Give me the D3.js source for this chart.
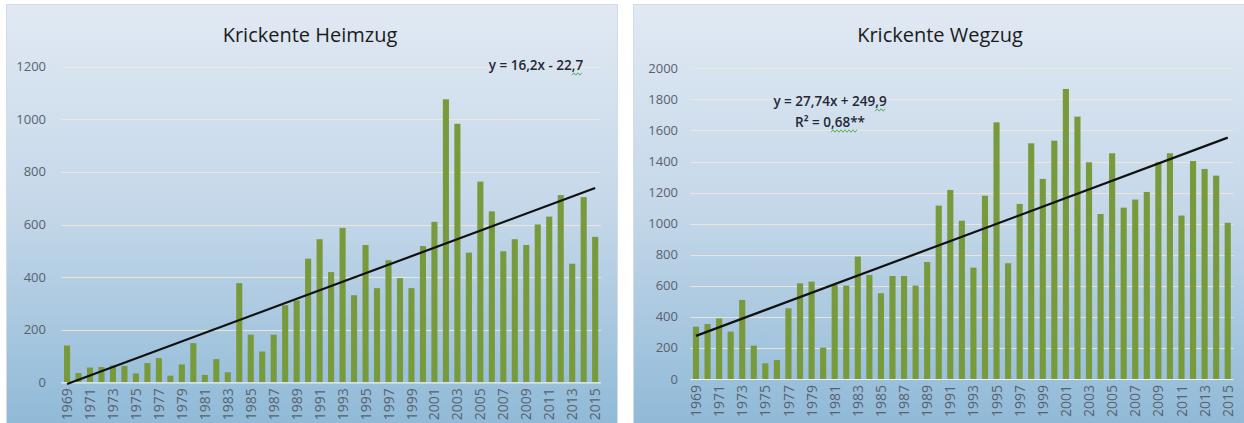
<!DOCTYPE html>
<html>
<head>
<meta charset="utf-8">
<script src="https://cdn.jsdelivr.net/npm/d3@7"></script>
<style>
  body { margin: 0; background: #fff; }
  text { font-family: "Open Sans", "Liberation Sans", sans-serif; }
</style>
</head>
<body>
<svg id="chart" width="1244" height="423"></svg>
<script>
// Krickente (teal) counts per year, spring passage and autumn passage
const years = d3.range(1969, 2016);
const heimzug = [140, 35, 56, 58, 64, 62, 34, 73, 92, 25, 68, 149, 28, 88, 38, 377,
  181, 117, 181, 293, 311, 470, 544, 419, 587, 331, 522, 358, 464, 396, 358, 518,
  610, 1076, 983, 493, 763, 650, 498, 544, 522, 600, 630, 712, 451, 704, 553];
const wegzug = [337, 354, 390, 305, 509, 215, 101, 122, 455, 616, 627, 202, 605, 601,
  788, 670, 552, 663, 663, 601, 753, 1116, 1217, 1019, 717, 1180, 1652, 745, 1127,
  1517, 1288, 1534, 1867, 1689, 1395, 1062, 1453, 1103, 1155, 1204, 1395, 1453,
  1052, 1403, 1352, 1309, 1006];
const heimTicks = [0, 200, 400, 600, 800, 1000, 1200];
const wegTicks = [0, 200, 400, 600, 800, 1000, 1200, 1400, 1600, 1800, 2000];
const yearLabels = years.filter(y => y % 2 === 1);
// linear trend: [slope, intercept], x = 1 for the first year
const heimTrend = [16.2, -22.7];
const wegTrend = [27.74, 249.9];
const heimEquation = ["y = 16,2x - 22,7"];
const wegEquation = ["y = 27,74x + 249,9", "R² = 0,68**"];

const svg = d3.select("#chart");
const defs = svg.append("defs");
const grad = defs.append("linearGradient")
  .attr("id", "bg").attr("gradientUnits", "userSpaceOnUse")
  .attr("x1", 0).attr("y1", 4).attr("x2", 0).attr("y2", 423);
grad.append("stop").attr("offset", 0).attr("stop-color", "#e1e9f3");
grad.append("stop").attr("offset", 0.5).attr("stop-color", "#c4d7e9");
grad.append("stop").attr("offset", 1).attr("stop-color", "#90bad7");

function squiggle(g, x0, x1, y) {
  const pts = [];
  for (let x = x0, k = 0; x <= x1; x += 2, k++) pts.push([x, y + (k % 2 ? -1.2 : 1.2)]);
  g.append("path").attr("d", d3.line()(pts))
    .attr("fill", "none").attr("stroke", "#3faa3f").attr("stroke-width", 0.9);
}

function drawPanel(p) {
  const g = svg.append("g");
  g.append("rect")
    .attr("x", p.box[0] + 0.5).attr("y", p.box[1] + 0.5)
    .attr("width", p.box[2]).attr("height", p.box[3])
    .attr("fill", "url(#bg)").attr("stroke", "#d3dbe4");

  const x = d3.scaleBand().domain(years).range(p.xRange).paddingInner(0.47).paddingOuter(0.235);
  const y = d3.scaleLinear().domain([0, p.ticks[p.ticks.length - 1]]).range(p.yRange);

  // gridlines
  g.append("g")
    .selectAll("line").data(p.ticks.slice(1)).join("line")
    .attr("x1", p.xRange[0]).attr("x2", p.xRange[1])
    .attr("y1", d => Math.round(y(d)) + 0.5).attr("y2", d => Math.round(y(d)) + 0.5)
    .attr("stroke", "#f0e8d8").attr("stroke-width", 1.2).attr("opacity", 0.9);

  // y tick labels
  g.append("g")
    .selectAll("text").data(p.ticks).join("text")
    .attr("x", p.labelX).attr("y", d => y(d)).attr("dy", "0.35em")
    .attr("text-anchor", "end").attr("font-size", 13).attr("fill", "#58626e")
    .text(d => d);

  // bars
  g.append("g")
    .selectAll("rect").data(p.values).join("rect")
    .attr("x", (d, i) => x(years[i]))
    .attr("width", x.bandwidth())
    .attr("y", d => y(d))
    .attr("height", d => y(0) - y(d))
    .attr("fill", "#789a3b");

  // baseline
  g.append("line")
    .attr("x1", p.xRange[0]).attr("x2", p.xRange[1])
    .attr("y1", y(0) + 0.5).attr("y2", y(0) + 0.5)
    .attr("stroke", "#eef0ee").attr("stroke-width", 1.2);

  // year labels, rotated
  g.append("g")
    .selectAll("text").data(yearLabels).join("text")
    .attr("transform", d => `translate(${x(d) + x.bandwidth() / 2},${y(0) + 6}) rotate(-90)`)
    .attr("dy", "0.36em").attr("text-anchor", "end")
    .attr("font-size", 14).attr("fill", "#58626e")
    .text(d => d);

  // trend line
  const n = years.length;
  const trendY = i => p.trend[0] * i + p.trend[1];
  g.append("line")
    .attr("x1", x(years[0]) + x.bandwidth() / 2).attr("y1", y(trendY(1)))
    .attr("x2", x(years[n - 1]) + x.bandwidth() / 2).attr("y2", y(trendY(n)))
    .attr("stroke", "#111").attr("stroke-width", 2.2);

  // title
  g.append("text")
    .attr("x", p.titleX).attr("y", 42).attr("text-anchor", "middle")
    .attr("font-size", 20).attr("fill", "#1b1b1b")
    .text(p.title);

  // regression equation
  p.equation.forEach((line, k) => {
    const t = g.append("text")
      .attr("x", p.eqPos[0]).attr("y", p.eqPos[1] + k * 21)
      .attr("text-anchor", "middle").attr("font-size", 13.5).attr("font-weight", 600)
      .attr("fill", "#1f2838")
      .text(line);
    const node = t.node();
    p.marks.filter(m => m[0] === k).forEach(m => {
      const a = node.getStartPositionOfChar(m[1]).x;
      const b = node.getEndPositionOfChar(m[2]).x;
      squiggle(g, a, b, p.eqPos[1] + k * 21 + 4);
    });
  });
}

drawPanel({
  box: [6, 4, 611, 440], xRange: [61.3, 600.9], yRange: [382.3, 66.7],
  labelX: 46, ticks: heimTicks, values: heimzug, trend: heimTrend,
  title: "Krickente Heimzug", titleX: 310,
  equation: heimEquation, eqPos: [536, 70], marks: [[0, 14, 15]]
});
drawPanel({
  box: [633, 4, 620, 440], xRange: [690.2, 1233.5], yRange: [379, 68.3],
  labelX: 678, ticks: wegTicks, values: wegzug, trend: wegTrend,
  title: "Krickente Wegzug", titleX: 940,
  equation: wegEquation, eqPos: [830, 106], marks: [[0, 16, 17], [1, 6, 9]]
});
</script>
</body>
</html>
